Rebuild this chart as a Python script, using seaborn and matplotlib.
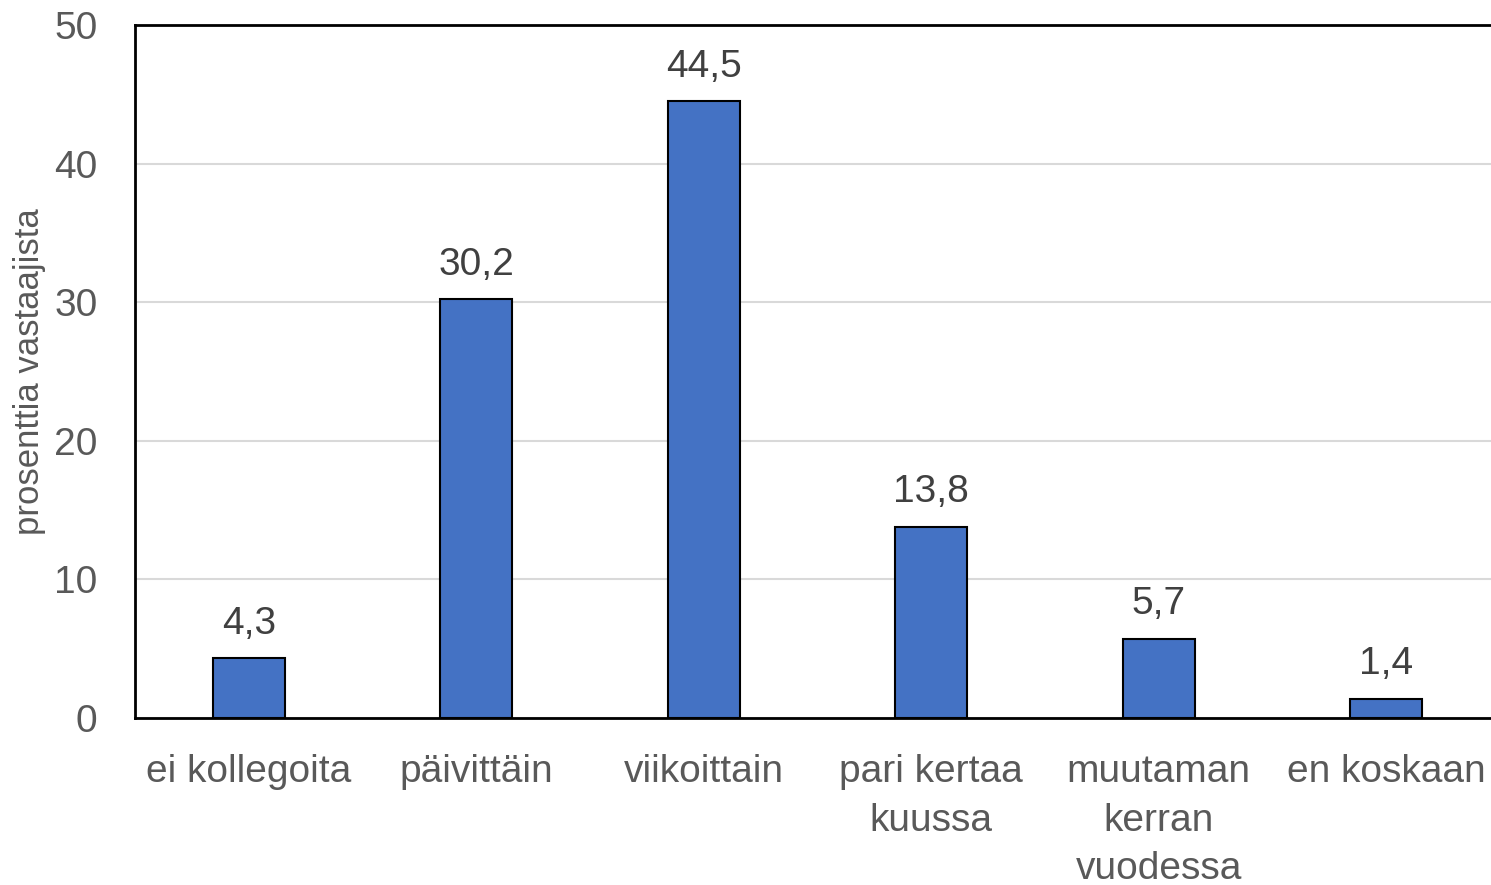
import pandas as pd
import seaborn as sns
import matplotlib.pyplot as plt
from matplotlib import font_manager

categories = ["ei kollegoita", "päivittäin", "viikoittain",
              "pari kertaa\nkuussa", "muutaman\nkerran\nvuodessa", "en koskaan"]
values = [4.3, 30.2, 44.5, 13.8, 5.7, 1.4]

df = pd.DataFrame({"kategoria": categories, "osuus": values})

sns.set_style("white")
names = {f.name for f in font_manager.fontManager.ttflist}
fam = "Liberation Sans Narrow" if "Liberation Sans Narrow" in names else "Liberation Sans"
plt.rcParams["font.family"] = [fam, "DejaVu Sans"]

fig = plt.figure(figsize=(14.91, 8.85), dpi=100)
ax = fig.add_axes([0.0905, 0.1887, 0.9095, 0.7831])

sns.barplot(data=df, x="kategoria", y="osuus", color="#4472C4",
            width=0.316, edgecolor="black", linewidth=1.5, saturation=1, ax=ax)

for i, v in enumerate(values):
    ax.text(i, v + 1.2, f"{v:.1f}".replace(".", ","), ha="center", va="bottom",
            fontsize=28, color="#404040")

ax.set_ylim(0, 50)
ax.set_xlim(-0.5, 5.46)
ax.set_yticks(range(0, 51, 10))
ax.yaxis.grid(True, color="#D9D9D9", linewidth=1.5)
ax.set_axisbelow(True)
ax.tick_params(axis="both", length=0, labelsize=28, labelcolor="#595959")
ax.tick_params(axis="x", pad=26)
ax.tick_params(axis="y", pad=27)
ax.set_xlabel("")
ax.set_ylabel("prosenttia vastaajista", fontsize=25, color="#595959", labelpad=6)
for s in ["left", "top", "bottom"]:
    ax.spines[s].set_color("black")
    ax.spines[s].set_linewidth(2)
ax.spines["right"].set_visible(False)
for lbl in ax.get_xticklabels():
    lbl.set_linespacing(1.45)

fig.savefig("out.png", dpi=100)
